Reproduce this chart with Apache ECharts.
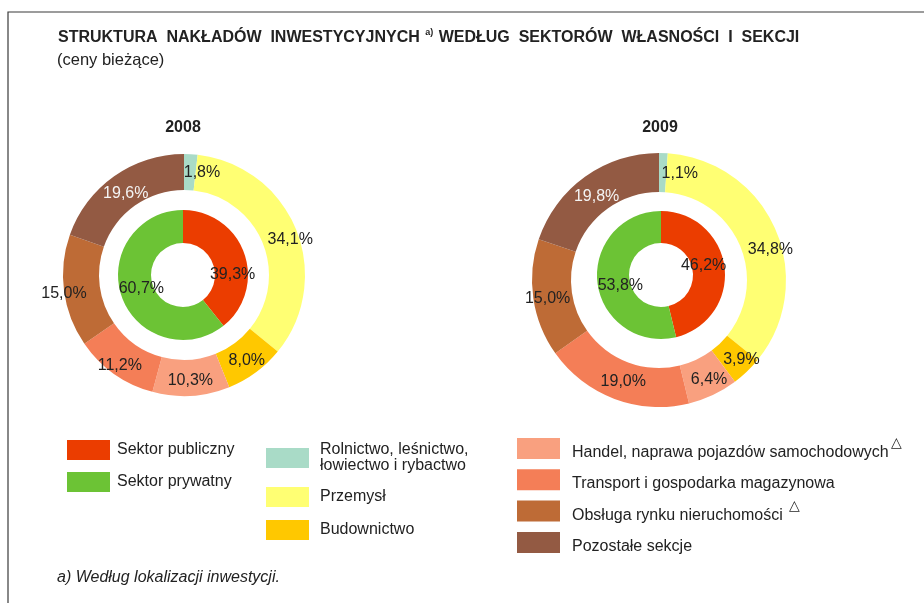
<!DOCTYPE html>
<html><head><meta charset="utf-8">
<script src="https://cdn.jsdelivr.net/npm/echarts@6/dist/echarts.min.js"></script>
<style>html,body{margin:0;padding:0;background:#fff}#c{width:924px;height:603px}</style>
</head><body><div id="c"></div>
<script>
// ---- data ----
const years = ['2008', '2009'];
const sectors = ['Sektor publiczny', 'Sektor prywatny'];
const sections = ['Rolnictwo, leśnictwo, łowiectwo i rybactwo', 'Przemysł', 'Budownictwo',
  'Handel, naprawa pojazdów samochodowych', 'Transport i gospodarka magazynowa',
  'Obsługa rynku nieruchomości', 'Pozostałe sekcje'];
const sectors2008 = [39.3, 60.7];
const sectors2009 = [46.2, 53.8];
const sections2008 = [1.8, 34.1, 8.0, 10.3, 11.2, 15.0, 19.6];
const sections2009 = [1.1, 34.8, 3.9, 6.4, 19.0, 15.0, 19.8];

// ---- styling ----
const sectorColors = ['#EB3D00', '#6CC335'];
const sectionColors = ['#A9DBC7', '#FFFF73', '#FFC800', '#F9A07F', '#F47E57', '#BE6B36', '#935A43'];
const lightLabel = [6];
const FONT = '"Liberation Sans", Arial, sans-serif';
const legendText = {
  'Rolnictwo, leśnictwo, łowiectwo i rybactwo': '{n|Rolnictwo, leśnictwo,}\n{n|łowiectwo i rybactwo}',
  'Handel, naprawa pojazdów samochodowych': '{t|Handel, naprawa pojazdów samochodowych}{s|△}',
  'Obsługa rynku nieruchomości': '{t|Obsługa rynku nieruchomości }{s|△}'
};
// label nudges [dx, dy] per ring
const nudges = {
  out2008: [[12, 3], [8, 5], [0, 0], [0, 0], [-3, 4], [-15, 5], [3, 5]],
  in2008: [[1, 17], [7, -3]],
  out2009: [[17, 4], [10, 13], [6, 0], [3, 0], [3, -2], [-2, 3], [2, 6]],
  in2009: [[-8, -3], [10, 5]]
};

const fmt = v => v.toFixed(1).replace('.', ',') + '%';

function ring(names, values, colors, center, radius, nudge) {
  return {
    type: 'pie', center: center, radius: radius, startAngle: 90, clockwise: true,
    silent: true, animation: false, avoidLabelOverlap: false,
    label: { show: true, position: 'inside', formatter: p => fmt(p.value),
      fontFamily: FONT, fontSize: 16, color: '#222' },
    labelLine: { show: false },
    labelLayout: p => ({ dx: nudge[p.dataIndex][0], dy: nudge[p.dataIndex][1] }),
    data: names.map((n, i) => ({
      name: n, value: values[i], itemStyle: { color: colors[i] },
      label: { color: (colors === sectionColors && lightLabel.includes(i)) ? '#f4f4f4' : '#222' }
    }))
  };
}

function richSet(gap, shiftDown) {
  return {
    t: { fontFamily: FONT, fontSize: 16, lineHeight: 16, color: '#222', padding: [shiftDown, 0, 0, gap] },
    n: { fontFamily: FONT, fontSize: 16, lineHeight: 16, color: '#222', padding: [0, 0, 0, gap] },
    s: { fontFamily: FONT, fontSize: 14, lineHeight: 14, color: '#222', padding: [0, 0, 10, 2] }
  };
}

const legendBase = {
  orient: 'vertical', icon: 'rect', itemWidth: 43, selectedMode: false, padding: 0,
  formatter: n => legendText[n] || ('{t|' + n + '}')
};

const chart = echarts.init(document.getElementById('c'), null, { renderer: 'canvas' });
chart.setOption({
  backgroundColor: '#fff',
  animation: false,
  legend: [
    Object.assign({}, legendBase, { data: sectors, left: 67, top: 440, itemHeight: 20, itemGap: 12,
      formatter: n => '{n|' + n + '}', textStyle: { fontSize: 16, rich: richSet(2, 0) } }),
    Object.assign({}, legendBase, { data: sections.slice(0, 3), left: 266, top: 442, itemHeight: 20, itemGap: 13,
      formatter: n => legendText[n] || ('{n|' + n + '}'), textStyle: { fontSize: 16, rich: richSet(6, 0) } }),
    Object.assign({}, legendBase, { data: sections.slice(3), left: 517, top: 436.5, itemHeight: 21, itemGap: 7.3,
      textStyle: { fontSize: 16, rich: richSet(7, 8) } })
  ],
  graphic: [
    { type: 'polyline', shape: { points: [[8, 603], [8, 12], [924, 12]] }, style: { stroke: '#3a3a3a', lineWidth: 1.2, fill: null } },
    { type: 'text', x: 58, y: 38, style: {
      text: '{b|STRUKTURA  NAKŁADÓW  INWESTYCYJNYCH }{s|a)}{b| WEDŁUG  SEKTORÓW  WŁASNOŚCI  I  SEKCJI}',
      verticalAlign: 'middle', rich: {
        b: { fontFamily: FONT, fontWeight: 'bold', fontSize: 16, lineHeight: 18, fill: '#222' },
        s: { fontFamily: FONT, fontWeight: 'bold', fontSize: 9, lineHeight: 9, fill: '#222', padding: [0, 1, 10, 1] }
      } } },
    { type: 'text', x: 57, y: 60, style: { text: '(ceny bieżące)', font: '16.5px ' + FONT, fill: '#222', verticalAlign: 'middle' } },
    { type: 'text', x: 183, y: 128, style: { text: years[0], font: 'bold 16px ' + FONT, fill: '#222', align: 'center', verticalAlign: 'middle' } },
    { type: 'text', x: 660, y: 128, style: { text: years[1], font: 'bold 16px ' + FONT, fill: '#222', align: 'center', verticalAlign: 'middle' } },
    { type: 'text', x: 57, y: 578, style: { text: 'a) Według lokalizacji inwestycji.', font: 'italic 16px ' + FONT, fill: '#222', verticalAlign: 'middle' } }
  ],
  series: [
    ring(sections, sections2008, sectionColors, [184, 275], [85, 121], nudges.out2008),
    ring(sectors, sectors2008, sectorColors, [183, 275], [32, 65], nudges.in2008),
    ring(sections, sections2009, sectionColors, [659, 280], [88, 127], nudges.out2009),
    ring(sectors, sectors2009, sectorColors, [661, 275], [32, 64], nudges.in2009)
  ]
});
</script></body></html>
